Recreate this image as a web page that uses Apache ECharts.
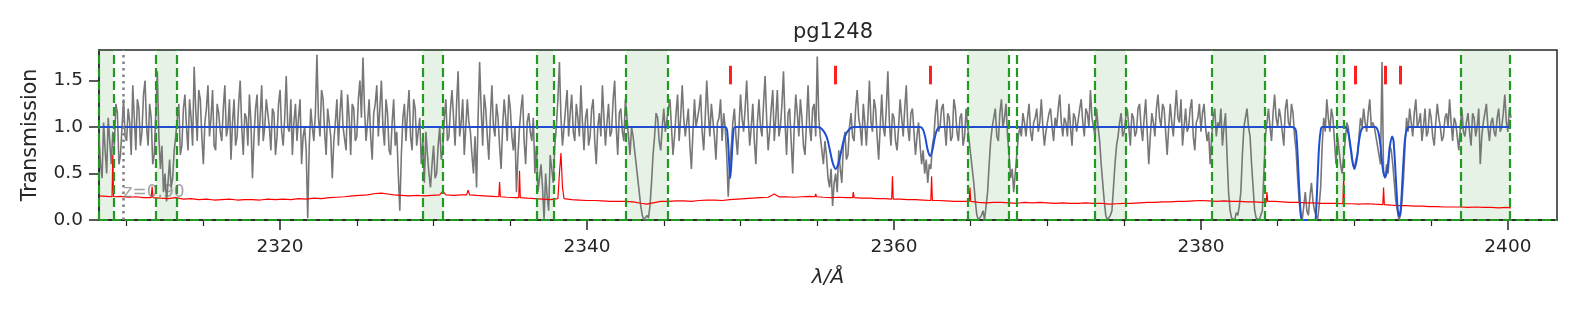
<!DOCTYPE html>
<html><head><meta charset="utf-8">
<script src="https://cdn.jsdelivr.net/npm/echarts@6/dist/echarts.min.js"></script>
<style>html,body{margin:0;padding:0;background:#fff}#c{width:1578px;height:316px}</style>
</head><body><div id="c"></div>
<script>
const chartTitle = 'pg1248';
const xTicks = [2320, 2340, 2360, 2380, 2400];
const xTickLabels = ['2320', '2340', '2360', '2380', '2400'];
const xMinorTicks = [2310, 2315, 2325, 2330, 2335, 2345, 2350, 2355, 2365, 2370, 2375, 2385, 2390, 2395];
const yTicks = [0, 0.5, 1.0, 1.5];
const yTickLabels = ['0.0', '0.5', '1.0', '1.5'];

// observed transmission, sampled every 0.1 Å from 2308.2 Å (one row per Å)
const fluxStart = 2308.2, fluxStep = 0.1;
const flux = [
0.9,0.6,0.45,1.05,0.75,0.5,1.1,0.85,0.6,0.95,
0.8,1.25,1.15,0.6,0.7,1.0,1.3,0.9,0.85,1.2,
1.05,0.7,1.45,1.1,0.75,1.3,1.2,0.8,0.95,1.35,
1.5,1.0,0.8,1.25,1.1,0.6,0.7,1.15,1.6,0.9,
0.55,0.8,0.3,0.5,0.2,0.4,0.65,0.35,0.45,0.75,
0.9,1.1,1.25,0.7,0.8,1.2,1.35,1.0,0.75,1.3,
1.1,0.8,1.65,1.2,0.85,1.4,1.3,0.9,0.6,1.05,
1.2,1.45,0.9,1.1,1.4,0.8,0.75,1.25,1.15,0.95,
0.85,1.2,1.45,0.9,1.0,1.3,0.65,1.05,1.3,0.8,
0.9,1.25,1.5,1.0,0.7,1.15,1.1,0.8,1.35,1.05,
0.45,0.9,1.2,1.35,0.8,1.1,1.45,0.85,1.0,1.3,
1.3,1.0,0.75,1.2,1.15,0.7,0.9,1.25,1.4,0.95,
0.8,1.1,1.55,1.0,0.95,1.3,0.7,1.05,1.25,0.85,
1.1,1.3,0.6,0.9,1.0,0.75,0.02,0.8,1.2,1.0,
0.85,1.15,1.78,1.1,0.9,1.4,1.3,0.95,0.7,1.2,
1.2,0.9,0.45,0.85,1.05,1.3,0.8,1.15,1.4,1.0,
1.0,0.75,1.35,1.1,0.7,1.25,1.2,0.85,0.9,1.3,
1.5,1.1,1.75,1.2,0.85,1.05,1.3,0.9,0.65,1.15,
1.25,1.45,0.9,1.2,1.5,1.0,0.8,1.3,1.15,0.75,
0.7,1.05,1.3,0.8,0.95,0.5,0.1,0.7,1.1,1.25,
0.85,1.15,1.4,0.9,0.75,1.3,1.2,0.8,0.95,1.1,
0.6,0.85,0.4,0.95,0.7,0.5,0.35,0.6,0.8,0.45,
0.5,0.8,1.0,0.65,0.75,1.1,1.3,0.85,0.9,1.2,
1.4,1.1,0.8,1.25,1.6,0.9,1.05,1.3,0.7,1.0,
1.3,1.05,0.95,0.7,0.5,0.9,0.35,1.1,1.7,1.2,
0.8,1.35,1.2,0.9,0.65,1.1,1.45,1.0,0.9,1.25,
1.1,0.8,0.55,1.0,1.3,1.1,0.85,1.35,1.2,0.9,
0.75,1.0,0.3,0.7,1.0,1.2,1.35,0.85,0.6,1.05,
1.15,0.95,0.85,1.1,0.5,0.8,0.3,0.45,0.6,0.35,
0.0,0.5,0.25,0.1,0.7,0.55,0.4,0.8,1.0,1.3,
1.7,1.1,0.8,1.0,1.2,1.4,0.9,1.15,1.35,0.95,
0.85,1.25,1.1,0.9,1.45,1.05,0.75,1.1,1.2,0.8,
0.9,1.2,1.3,0.85,0.6,1.0,1.15,0.9,1.45,1.1,
0.8,1.05,1.25,0.9,0.95,1.3,1.5,1.0,0.7,1.15,
1.2,0.95,0.85,1.3,1.1,0.9,0.7,1.0,0.9,0.75,
0.6,0.45,0.3,0.15,0.05,0.0,0.0,0.05,0.02,0.15,
0.4,0.7,0.9,1.15,1.1,0.85,0.75,1.0,1.2,0.95,
0.95,1.2,1.3,1.0,0.7,0.9,1.15,1.35,0.85,1.1,
1.45,1.1,0.9,1.05,1.2,0.8,0.55,0.95,1.3,1.0,
1.0,1.2,1.35,0.95,0.75,1.1,1.5,1.15,0.9,1.25,
1.25,0.9,0.65,1.05,1.1,1.3,0.85,1.15,1.0,0.7,
0.25,0.6,0.8,1.05,1.2,0.9,0.7,1.0,1.35,1.1,
0.95,1.2,1.5,1.1,0.8,1.0,1.25,0.85,0.6,1.05,
1.3,1.0,0.9,1.25,1.55,1.1,0.75,0.95,1.2,1.4,
0.85,1.1,1.4,0.9,1.0,1.25,1.6,1.05,0.7,1.15,
1.2,0.85,0.5,1.0,1.35,1.15,0.9,1.3,1.1,0.8,
0.7,1.05,1.45,1.0,0.85,1.2,1.25,0.9,1.76,1.1,
0.9,0.75,0.6,0.85,0.7,0.45,0.35,0.55,0.15,0.4,
0.5,0.3,0.75,0.55,0.4,0.8,0.95,0.65,0.7,1.0,
1.15,0.9,0.85,1.2,1.4,1.1,1.0,0.8,1.25,1.05,
0.8,1.1,1.5,1.05,0.95,1.3,1.2,0.9,0.65,1.0,
1.35,1.0,0.9,1.2,1.6,1.05,0.8,1.15,1.1,0.85,
0.75,1.0,1.3,1.1,0.9,1.2,1.45,1.0,0.85,1.15,
1.2,0.95,0.7,0.9,1.05,0.8,0.6,0.75,0.5,0.65,
0.4,0.6,0.55,0.8,0.9,1.15,1.3,0.95,1.0,1.2,
1.25,1.0,0.8,1.15,1.1,0.85,0.9,1.3,1.2,0.95,
0.85,1.1,1.15,0.8,0.9,1.2,1.0,0.85,0.7,0.55,
0.4,0.2,0.05,0.0,0.0,0.05,0.1,0.0,0.02,0.3,
0.6,0.85,1.0,1.1,1.2,0.9,0.85,1.15,1.3,1.0,
1.1,1.25,0.9,0.7,0.45,0.55,0.3,0.5,0.7,0.9,
1.0,0.9,1.15,1.05,0.9,1.1,1.25,0.95,0.85,1.05,
1.1,1.2,0.95,1.05,1.3,1.0,0.8,0.95,1.05,1.15,
1.2,1.0,0.85,1.1,1.0,1.2,1.35,1.05,0.9,1.1,
1.05,0.9,1.25,1.0,0.8,1.15,1.1,0.95,0.95,1.2,
1.3,1.05,0.9,1.2,1.15,1.0,1.4,1.1,1.0,0.9,
1.2,1.0,0.85,0.6,0.4,0.2,0.05,0.0,0.0,0.05,
0.1,0.35,0.6,0.8,0.9,1.05,1.15,0.9,0.95,1.1,
1.2,1.0,0.8,1.15,1.1,0.9,0.95,1.2,1.25,1.0,
0.85,1.1,1.3,0.95,0.6,0.9,1.15,1.05,0.9,1.2,
1.35,1.1,1.0,1.25,1.2,0.95,0.7,1.0,1.25,1.05,
0.9,1.15,1.4,1.1,1.05,1.3,0.8,1.0,1.2,0.95,
1.0,1.2,1.3,0.9,0.75,1.05,1.1,1.25,0.95,1.15,
1.25,1.0,0.85,0.95,0.6,0.9,1.1,1.2,0.9,1.05,
1.0,1.2,0.8,1.0,1.15,0.7,0.3,0.1,0.02,0.0,
0.0,0.08,0.05,0.15,0.3,0.7,1.0,1.1,1.2,1.0,
0.9,0.6,0.35,0.1,0.02,0.0,0.0,0.05,0.1,0.5,
0.9,1.05,1.2,1.0,0.85,1.15,1.35,1.1,1.0,1.2,
1.1,0.95,0.8,1.2,1.3,1.05,1.0,1.25,1.15,0.9,
0.75,0.45,0.2,0.05,0.0,0.15,0.3,0.1,0.05,0.25,
0.4,0.2,0.1,0.05,0.0,0.15,0.35,0.8,1.1,0.95,
1.3,1.1,0.95,1.2,1.1,0.85,0.6,0.9,0.75,0.6,
0.5,0.7,0.85,1.05,1.0,0.8,0.75,0.6,0.55,0.65,
0.7,0.9,1.1,1.0,1.2,1.05,0.95,1.15,1.3,1.0,
1.05,1.0,0.9,0.8,0.7,0.6,1.7,0.5,0.45,0.6,
0.5,0.8,0.75,0.6,0.4,0.2,0.1,0.0,0.05,0.2,
0.45,0.8,1.1,0.95,1.2,1.05,0.9,1.15,1.3,1.0,
1.05,1.15,0.85,1.0,1.2,0.9,0.95,1.2,1.1,0.9,
0.8,1.05,1.25,1.1,1.0,0.85,0.9,1.1,1.15,1.0,
1.3,1.05,0.85,1.1,1.05,0.9,0.75,1.0,1.2,0.95,
0.9,1.05,1.15,0.95,0.8,1.15,1.1,0.9,1.0,1.2,
0.6,0.9,1.05,1.15,1.25,1.0,0.85,1.05,1.1,0.95,
0.9,1.1,1.2,0.95,1.0,1.15,1.35,1.05,0.95,1.2,
1.1
];

// error spectrum [λ, σ]
const errPoints = [
[2308.2,0.26],[2308.7,0.255],[2309.05,0.25],[2309.1,0.7],[2309.15,0.25],[2309.6,0.255],[2310.1,0.245],[2310.6,0.25],
[2311.1,0.24],[2311.6,0.24],[2311.66,0.36],[2311.72,0.24],[2312.2,0.235],[2312.7,0.23],[2313.2,0.24],[2313.7,0.225],
[2314.2,0.23],[2314.7,0.22],[2315.2,0.225],[2315.7,0.215],[2316.2,0.22],[2316.7,0.225],[2317.2,0.215],[2317.7,0.22],
[2318.2,0.22],[2318.7,0.215],[2319.2,0.225],[2319.7,0.22],[2320.2,0.225],[2320.7,0.22],[2321.2,0.23],[2321.7,0.225],
[2322.2,0.235],[2322.7,0.23],[2323.2,0.24],[2323.7,0.245],[2324.2,0.25],[2324.7,0.26],[2325.2,0.265],[2325.7,0.27],
[2326.2,0.285],[2326.6,0.29],[2327.0,0.28],[2327.4,0.27],[2327.9,0.265],[2328.4,0.26],[2328.9,0.265],[2329.4,0.26],
[2329.9,0.265],[2330.4,0.27],[2330.6,0.31],[2330.8,0.27],[2331.3,0.265],[2331.8,0.27],[2332.15,0.27],[2332.25,0.32],
[2332.35,0.27],[2332.8,0.265],[2333.3,0.26],[2333.8,0.255],[2334.25,0.25],[2334.3,0.41],[2334.35,0.25],[2334.8,0.245],
[2335.3,0.24],[2335.55,0.24],[2335.6,0.53],[2335.65,0.24],[2336.1,0.235],[2336.6,0.23],[2337.1,0.225],[2337.6,0.22],
[2338.1,0.23],[2338.2,0.5],[2338.3,0.72],[2338.4,0.35],[2338.5,0.23],[2339.0,0.22],[2339.5,0.215],[2340.0,0.21],
[2340.5,0.21],[2341.0,0.205],[2341.5,0.2],[2342.0,0.2],[2342.5,0.2],[2343.0,0.195],[2343.5,0.18],[2343.9,0.17],
[2344.3,0.185],[2344.8,0.2],[2345.3,0.2],[2345.8,0.205],[2346.3,0.205],[2346.8,0.2],[2347.3,0.21],[2347.8,0.215],
[2348.3,0.215],[2348.8,0.21],[2349.3,0.22],[2349.8,0.225],[2350.3,0.23],[2350.8,0.235],[2351.3,0.24],[2351.8,0.245],
[2352.2,0.28],[2352.5,0.25],[2353.0,0.25],[2353.5,0.245],[2354.0,0.25],[2354.5,0.255],[2354.85,0.25],[2354.9,0.28],
[2354.95,0.25],[2355.4,0.245],[2355.9,0.24],[2356.4,0.245],[2356.9,0.24],[2357.3,0.24],[2357.35,0.3],[2357.4,0.24],
[2357.9,0.235],[2358.4,0.235],[2358.9,0.23],[2359.4,0.23],[2359.85,0.225],[2359.9,0.47],[2359.95,0.225],[2360.4,0.225],
[2360.9,0.22],[2361.4,0.22],[2361.9,0.215],[2362.4,0.21],[2362.45,0.47],[2362.5,0.21],[2362.9,0.21],[2363.4,0.205],
[2363.9,0.2],[2364.4,0.2],[2364.9,0.2],[2364.95,0.35],[2365.0,0.2],[2365.5,0.19],[2366.0,0.185],[2366.5,0.19],
[2367.0,0.19],[2367.5,0.185],[2368.0,0.18],[2368.5,0.19],[2369.0,0.185],[2369.5,0.19],[2370.0,0.185],[2370.5,0.18],
[2371.0,0.185],[2371.5,0.18],[2372.0,0.18],[2372.5,0.185],[2373.0,0.18],[2373.5,0.18],[2374.0,0.17],[2374.5,0.175],
[2375.0,0.18],[2375.5,0.18],[2376.0,0.185],[2376.5,0.19],[2377.0,0.19],[2377.5,0.195],[2378.0,0.195],[2378.5,0.2],
[2379.0,0.2],[2379.5,0.205],[2380.0,0.21],[2380.5,0.205],[2381.0,0.2],[2381.5,0.205],[2382.0,0.2],[2382.5,0.2],
[2383.0,0.195],[2383.5,0.195],[2384.0,0.19],[2384.25,0.19],[2384.3,0.3],[2384.35,0.2],[2384.8,0.2],[2385.3,0.195],
[2385.8,0.19],[2386.3,0.19],[2386.8,0.185],[2387.3,0.185],[2387.8,0.18],[2388.3,0.18],[2388.8,0.18],[2389.25,0.175],
[2389.3,0.46],[2389.35,0.175],[2389.8,0.175],[2390.3,0.17],[2390.8,0.175],[2391.3,0.17],[2391.85,0.165],[2391.9,0.35],
[2391.95,0.165],[2392.4,0.16],[2392.9,0.155],[2393.4,0.155],[2393.9,0.15],[2394.4,0.15],[2394.9,0.145],[2395.4,0.145],
[2395.9,0.14],[2396.4,0.14],[2396.9,0.14],[2397.4,0.135],[2397.9,0.14],[2398.4,0.135],[2398.9,0.135],[2399.4,0.13],
[2399.9,0.135],[2400.2,0.13]
];

// absorption model [λ, T]
const modelPoints = [
[2308.2,1.0],[2349.0,1.0],[2349.15,0.92],[2349.25,0.65],[2349.33,0.45],[2349.42,0.65],[2349.52,0.92],[2349.65,1.0],
[2355.0,1.0],[2355.3,0.98],[2355.6,0.9],[2355.8,0.77],[2356.0,0.62],[2356.2,0.55],[2356.4,0.62],[2356.6,0.77],
[2356.8,0.9],[2357.1,0.98],[2357.4,1.0],
[2361.7,1.0],[2361.9,0.97],[2362.05,0.88],[2362.2,0.75],[2362.35,0.69],[2362.5,0.75],[2362.65,0.88],[2362.8,0.97],[2363.0,1.0],
[2385.9,1.0],[2386.1,0.99],[2386.2,0.95],[2386.3,0.7],[2386.4,0.35],[2386.5,0.08],[2386.6,0.0],[2387.4,0.0],
[2387.5,0.1],[2387.6,0.45],[2387.7,0.8],[2387.8,0.96],[2387.9,1.0],
[2389.4,1.0],[2389.55,0.97],[2389.7,0.85],[2389.85,0.65],[2390.0,0.55],[2390.15,0.65],[2390.3,0.85],[2390.45,0.97],[2390.65,1.0],
[2391.35,1.0],[2391.55,0.95],[2391.7,0.8],[2391.85,0.55],[2392.0,0.46],[2392.15,0.55],[2392.3,0.78],[2392.45,0.9],
[2392.55,0.85],[2392.7,0.45],[2392.82,0.12],[2392.92,0.04],[2393.02,0.12],[2393.15,0.5],[2393.3,0.88],[2393.45,0.99],
[2393.6,1.0],[2400.2,1.0]
];

const regionStarts = [2308.2, 2311.92, 2329.28, 2336.7, 2342.52, 2364.8, 2373.07, 2380.73, 2388.87, 2396.9];
const regionEnds   = [2309.15, 2313.26, 2330.62, 2337.8, 2345.23, 2367.5, 2375.12, 2384.18, 2389.3, 2400.15];
const extraLines = [2367.97];
const markerWaves = [2349.3, 2356.2, 2362.35, 2390.07, 2392.03, 2392.99];
const markerLow = 1.46, markerHigh = 1.66;
const zWave = 2309.8;
const zText = 'z=0.90';

const font = 'DejaVu Sans';
const ink = '#262626';
const green = '#229a22';
const fluxData = flux.map((v, i) => [+(fluxStart + i * fluxStep).toFixed(2), v]);

const dashedLines = [];
regionStarts.forEach((s, i) => { dashedLines.push({ xAxis: s }); dashedLines.push({ xAxis: regionEnds[i] }); });
extraLines.forEach(x => dashedLines.push({ xAxis: x }));

function lookup(ticks, labels, v) {
  const i = ticks.findIndex(t => Math.abs(t - v) < 1e-6);
  return i >= 0 ? labels[i] : '';
}

const chart = echarts.init(document.getElementById('c'), null, { renderer: 'canvas' });
chart.setOption({
  animation: false,
  backgroundColor: '#fff',
  title: { text: chartTitle, left: 828, textAlign: 'center', top: 17, textStyle: { fontFamily: font, fontSize: 21, fontWeight: 'normal', color: ink } },
  grid: { left: 99, right: 21, top: 50, bottom: 96, show: true, borderColor: ink, borderWidth: 1.5, backgroundColor: 'transparent' },
  xAxis: [
    { type: 'value', min: 2308.2, max: 2403.2, position: 'bottom',
      name: 'λ/Å', nameLocation: 'middle', nameGap: 48,
      nameTextStyle: { fontFamily: font, fontSize: 20, fontStyle: 'italic', color: ink },
      axisLine: { show: true, lineStyle: { color: ink, width: 1.5 } },
      axisTick: { show: true, length: 10, customValues: xTicks, lineStyle: { color: ink, width: 1.5 } },
      axisLabel: { customValues: xTicks, fontFamily: font, fontSize: 18.5, color: ink, margin: 18,
        formatter: v => lookup(xTicks, xTickLabels, v) },
      splitLine: { show: false } },
    { type: 'value', min: 2308.2, max: 2403.2, position: 'bottom',
      axisLine: { show: false },
      axisTick: { show: true, length: 6, customValues: xMinorTicks, lineStyle: { color: ink, width: 1.2 } },
      axisLabel: { show: false }, splitLine: { show: false } }
  ],
  yAxis: { type: 'value', min: 0, max: 1.83,
    name: 'Transmission', nameLocation: 'middle', nameGap: 58,
    nameTextStyle: { fontFamily: font, fontSize: 20.5, color: ink },
    axisLine: { show: true, lineStyle: { color: ink, width: 1.5 } },
    axisTick: { show: true, length: 10, customValues: yTicks, lineStyle: { color: ink, width: 1.5 } },
    axisLabel: { customValues: yTicks, fontFamily: font, fontSize: 18.5, color: ink, margin: 16,
      formatter: v => lookup(yTicks, yTickLabels, v) },
    splitLine: { show: false } },
  series: [
    { type: 'line', name: 'flux', data: fluxData, symbol: 'none', silent: true, z: 2,
      lineStyle: { color: '#777777', width: 1.6 },
      markArea: { silent: true, itemStyle: { color: 'rgba(0,128,0,0.1)' },
        data: regionStarts.map((s, i) => [{ xAxis: s }, { xAxis: regionEnds[i] }]) },
      markLine: { silent: true, symbol: ['none', 'none'], label: { show: false }, animation: false,
        lineStyle: { color: green, type: [9, 4], width: 2.2 },
        data: dashedLines.concat([
          { yAxis: 0 },
          { xAxis: zWave, lineStyle: { color: '#808080', type: [2.5, 4], width: 2.5 } }
        ]) } },
    { type: 'line', name: 'error', data: errPoints, symbol: 'none', silent: true, z: 3,
      lineStyle: { color: '#ff0000', width: 1.2 } },
    { type: 'line', name: 'model', data: modelPoints, symbol: 'none', silent: true, z: 4, smooth: 0.3,
      lineStyle: { color: '#1f4fd0', width: 2 } },
    { type: 'line', name: 'markers', data: [], symbol: 'none', silent: true, z: 5,
      markLine: { silent: true, symbol: ['none', 'none'], label: { show: false },
        lineStyle: { color: '#ff2020', type: 'solid', width: 3 },
        data: markerWaves.map(w => [{ coord: [w, markerLow] }, { coord: [w, markerHigh] }]) } },
    { type: 'scatter', name: 'zlabel', data: [[zWave, 0.3]], symbolSize: 0, itemStyle: { color: 'rgba(0,0,0,0)' }, silent: true, z: 6,
      label: { show: true, formatter: zText, position: 'right', distance: 0, fontFamily: font, fontSize: 17, color: 'rgba(110,110,110,0.8)' } }
  ]
});
</script></body></html>
